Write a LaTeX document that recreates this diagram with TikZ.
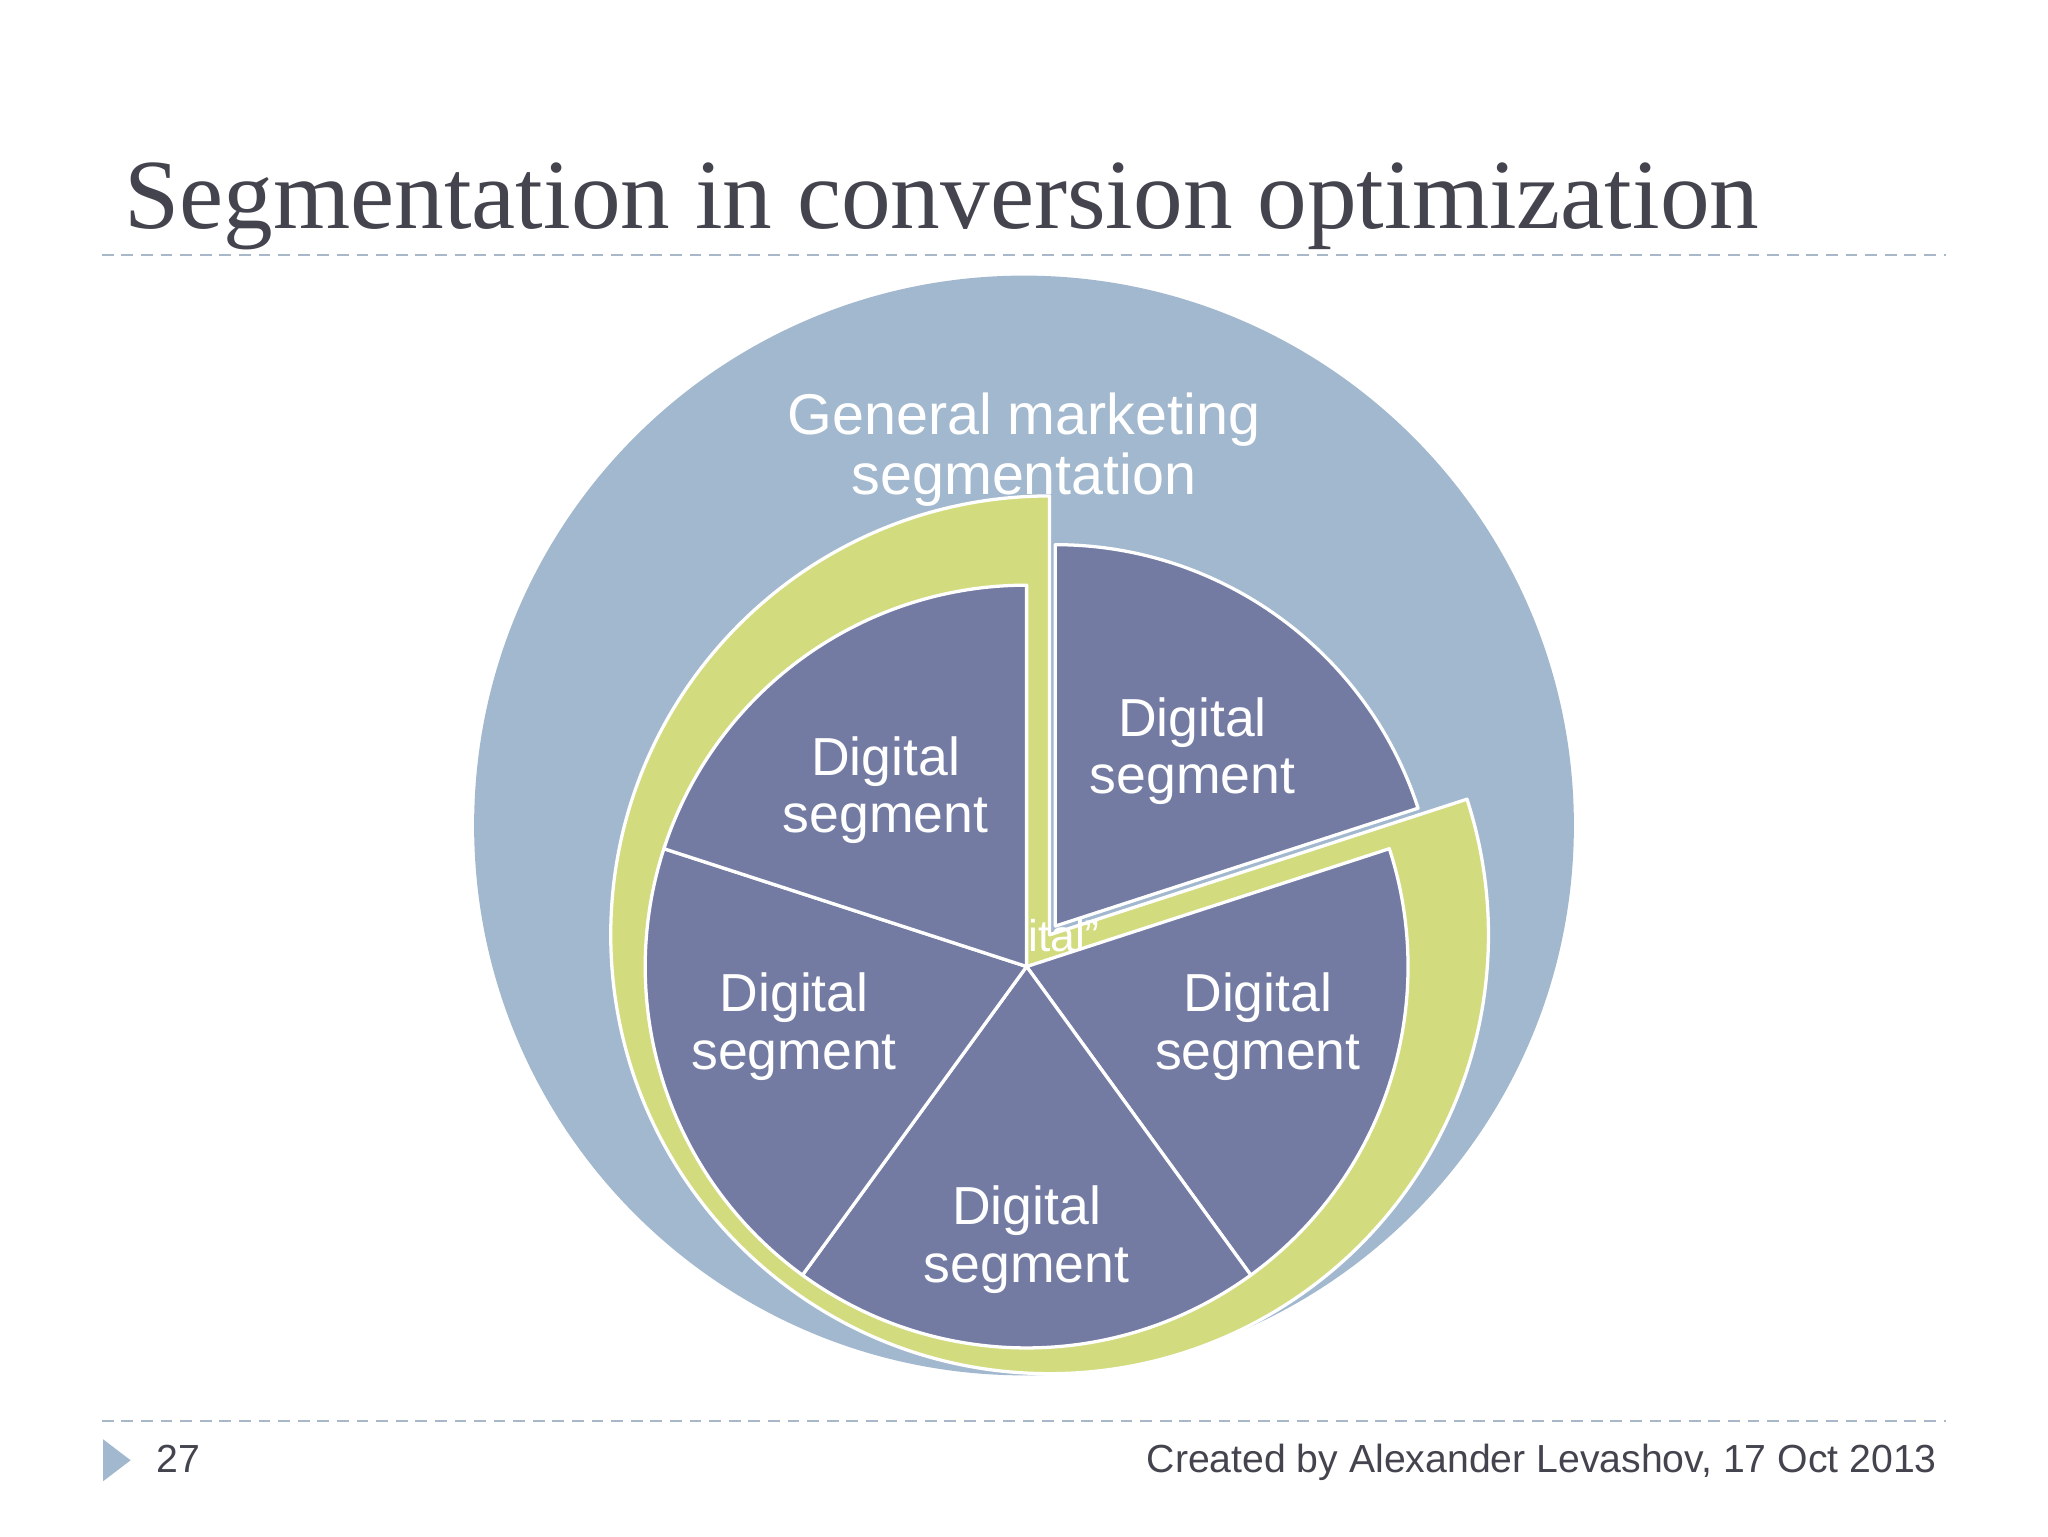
\documentclass[tikz,border=0pt]{standalone}
\usepackage{fontspec}
\setmainfont{Liberation Sans}
\newfontfamily\titlefont{Liberation Serif}
\definecolor{bigc}{HTML}{A2B8CE}
\definecolor{slc}{HTML}{737BA3}
\definecolor{ylw}{HTML}{D3DB7F}
\definecolor{ttl}{HTML}{44444F}
\definecolor{dsh}{HTML}{A8B8C8}
\begin{document}
\begin{tikzpicture}[x=1pt,y=-1pt,
  slice/.style={fill=slc,draw=white,line width=2.5pt,line join=round},
  lbl/.style={text=white,align=center,font=\fontsize{41}{44}\selectfont},
  dline/.style={draw=dsh,dashed,line width=1.5pt,dash pattern=on 9pt off 6pt}]
\useasboundingbox[fill=white] (0,0) rectangle (1568,1176);
\node[anchor=base west,text=ttl,font=\titlefont\fontsize{76}{84}\selectfont,inner sep=0] (title) at (95,175) {Segmentation in conversion optimization};
\coordinate (dl1) at (78,195); \coordinate (dr1) at (1490,195);
\draw[dline] (dl1) -- (dr1);
\coordinate (dl2) at (78,1088); \coordinate (dr2) at (1490,1088);
\draw[dline] (dl2) -- (dr2);
% big circle
\fill[bigc] (784,632) circle[radius=421];
\node[lbl,font=\fontsize{44}{46}\selectfont] (gen) at (784,344) {General marketing\\segmentation};
% yellow sector
\coordinate (yc) at (803.6,715.7);
\fill[ylw,draw=white,line width=2.5pt,line join=round] (yc) -- ++(-90:336) arc[start angle=-90,end angle=-378,radius=336] -- cycle;
% the hidden text artifact
\node[text=white,font=\fontsize{34}{36}\selectfont,anchor=west,inner sep=0] (hid) at (787,716) {ital”};
% pie slices
\coordinate (pc) at (786,740);
\foreach \a/\b in {18/-54,-54/-126,-126/-198,-198/-270}{
  \draw[slice] (pc) -- ++(\a:292 and -292) arc[start angle=-\a,end angle=-\b,radius=292] -- cycle;
}
\coordinate (ec) at (808,709);
\draw[slice] (ec) -- ++(0,-292) arc[start angle=-90,end angle=-18,radius=292] -- cycle;
\node[lbl] (s1) at (913,575) {Digital\\segment};
\node[lbl] (s2) at (678,605) {Digital\\segment};
\node[lbl] (s3) at (608,786) {Digital\\segment};
\node[lbl] (s4) at (786,949) {Digital\\segment};
\node[lbl] (s5) at (963,786) {Digital\\segment};
% footer
\fill[bigc] (79,1102) -- (100,1118) -- (79,1134) -- cycle;
\node[anchor=base west,text=ttl,font=\fontsize{30}{31}\selectfont,inner sep=0] (pg) at (120,1127) {27};
\node[anchor=base east,text=ttl,font=\fontsize{30}{31}\selectfont,inner sep=0] (cr) at (1483,1127) {Created by Alexander Levashov, 17 Oct 2013};
\end{tikzpicture}
\end{document}
